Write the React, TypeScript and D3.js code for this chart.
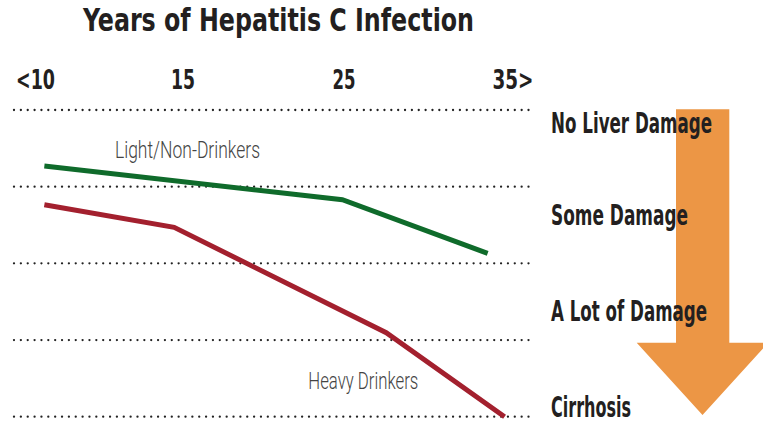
import React from "react";
import * as d3 from "d3";

const W = 763;
const H = 422;

const title = "Years of Hepatitis C Infection";
const tickYears = [10, 15, 25, 35];
const tickLabels = ["<10", "15", "25", "35>"];
const levels = [0, 1, 2, 3, 4];
const levelLabels = ["No Liver Damage", "Some Damage", "A Lot of Damage", "Cirrhosis"];

const lightYears = [10.3, 24.9, 33.5];
const lightLevels = [0.73, 1.17, 1.87];
const heavyYears = [10.3, 14.7, 27.5, 34.5];
const heavyLevels = [1.235, 1.53, 2.905, 4.0];

const seriesNames = ["Light/Non-Drinkers", "Heavy Drinkers"];

const BOLD = "'Liberation Sans Narrow', 'DejaVu Sans Condensed', 'Roboto Condensed', sans-serif";
const LIGHT = "Roboto, 'Open Sans', sans-serif";
const TEXT = "#231f20";

export default function App() {
  const x = d3.scaleLinear().domain(tickYears).range([35.5, 183, 344, 513]);
  const y = d3.scaleLinear().domain([0, 4]).range([110, 416.7]);

  const line = d3
    .line<[number, number]>()
    .x((d) => x(d[0]))
    .y((d) => y(d[1]));

  const light: [number, number][] = lightYears.map((v, i) => [v, lightLevels[i]]);
  const heavy: [number, number][] = heavyYears.map((v, i) => [v, heavyLevels[i]]);

  const labelWidths = [161, 137, 156, 80];
  const labelBaselines = [133, 225, 321, 416.5];
  const tickWidths = [39, 24, 23, 41];

  // arrow geometry
  const shaftL = 676, shaftR = 729.3, top = 109.3, shaftB = 342.7;
  const headL = 636.7, headR = 768.3, tipX = 702.5, tipY = 415;
  const arrow = `M${shaftL},${top}L${shaftR},${top}L${shaftR},${shaftB}L${headR},${shaftB}L${tipX},${tipY}L${headL},${shaftB}L${shaftL},${shaftB}Z`;

  return (
    <svg
      width={W}
      height={H}
      style={{ position: "fixed", left: 0, top: 0, background: "#fff" }}
    >
      <rect width={W} height={H} fill="#fff" />
      <path d={arrow} fill="#ec9645" />

      <text
        x={83}
        y={31}
        fontFamily={BOLD}
        fontWeight={700}
        fontSize={32}
        fill={TEXT}
        textLength={391}
        lengthAdjust="spacingAndGlyphs"
      >
        {title}
      </text>

      {tickYears.map((t, i) => (
        <text
          key={t}
          x={x(t)}
          y={89}
          textAnchor="middle"
          fontFamily={BOLD}
          fontWeight={700}
          fontSize={27}
          fill={TEXT}
          textLength={tickWidths[i]}
          lengthAdjust="spacingAndGlyphs"
        >
          {tickLabels[i]}
        </text>
      ))}

      {levels.map((l) => (
        <line
          key={l}
          x1={14}
          x2={532}
          y1={y(l)}
          y2={y(l)}
          stroke="#222"
          strokeWidth={2.3}
          strokeLinecap="round"
          strokeDasharray="0.01 6.85"
        />
      ))}

      <path d={line(light) || ""} fill="none" stroke="#0f6b2b" strokeWidth={5} />
      <path d={line(heavy) || ""} fill="none" stroke="#a3202e" strokeWidth={5} />

      <text
        x={115}
        y={158.3}
        fontFamily={LIGHT}
        fontWeight={300}
        fontSize={23}
        fill="#444"
        textLength={145}
        lengthAdjust="spacingAndGlyphs"
      >
        {seriesNames[0]}
      </text>
      <text
        x={308.3}
        y={389.3}
        fontFamily={LIGHT}
        fontWeight={300}
        fontSize={24}
        fill="#444"
        textLength={110}
        lengthAdjust="spacingAndGlyphs"
      >
        {seriesNames[1]}
      </text>

      {levelLabels.map((lab, i) => (
        <text
          key={lab}
          x={551}
          y={labelBaselines[i]}
          fontFamily={BOLD}
          fontWeight={700}
          fontSize={28}
          fill={TEXT}
          textLength={labelWidths[i]}
          lengthAdjust="spacingAndGlyphs"
        >
          {lab}
        </text>
      ))}
    </svg>
  );
}
